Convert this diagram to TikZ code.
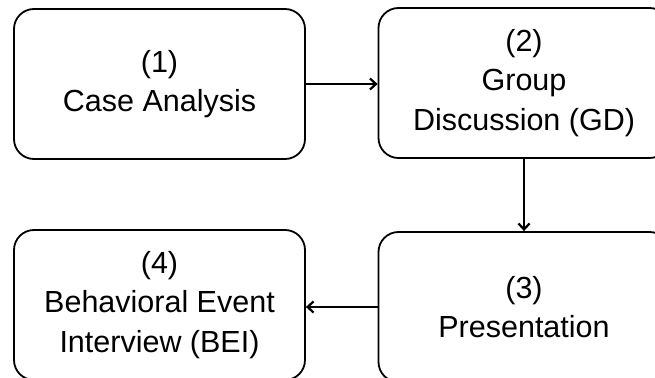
\documentclass[tikz,border=0pt]{standalone}
\usepackage{fontspec}
\setmainfont{Liberation Sans}
\usetikzlibrary{arrows.meta}
\tikzset{
  stage/.style={draw=black, line width=1.8pt, rounded corners=20pt, minimum width=291pt, minimum height=150pt,
    align=center, inner sep=0pt, font=\fontsize{30.5}{39.5}\selectfont},
  flow/.style={line width=2.2pt, -{Straight Barb[length=6pt,width=11pt,line width=2.2pt]}}
}
\begin{document}
\begin{tikzpicture}[x=1pt,y=-1pt]
\useasboundingbox (0,0) rectangle (655,377);
\clip (0,0) rectangle (655,377);
\fill[white] (0,0) rectangle (655,377);
\node[stage] (b1) at (159.5,84) {(1)\\Case Analysis};
\node[stage] (b2) at (524,83) {(2)\\Group\\Discussion (GD)};
\node[stage] (b3) at (524,307) {(3)\\Presentation};
\node[stage] (b4) at (159.5,305) {(4)\\Behavioral Event\\Interview (BEI)};
\draw[flow] (b1.east) -- (b2.west |- b1.east);
\draw[flow] (b2.south) -- (b3.north);
\draw[flow] (b3.west) -- (b4.east |- b3.west);
\end{tikzpicture}
\end{document}
